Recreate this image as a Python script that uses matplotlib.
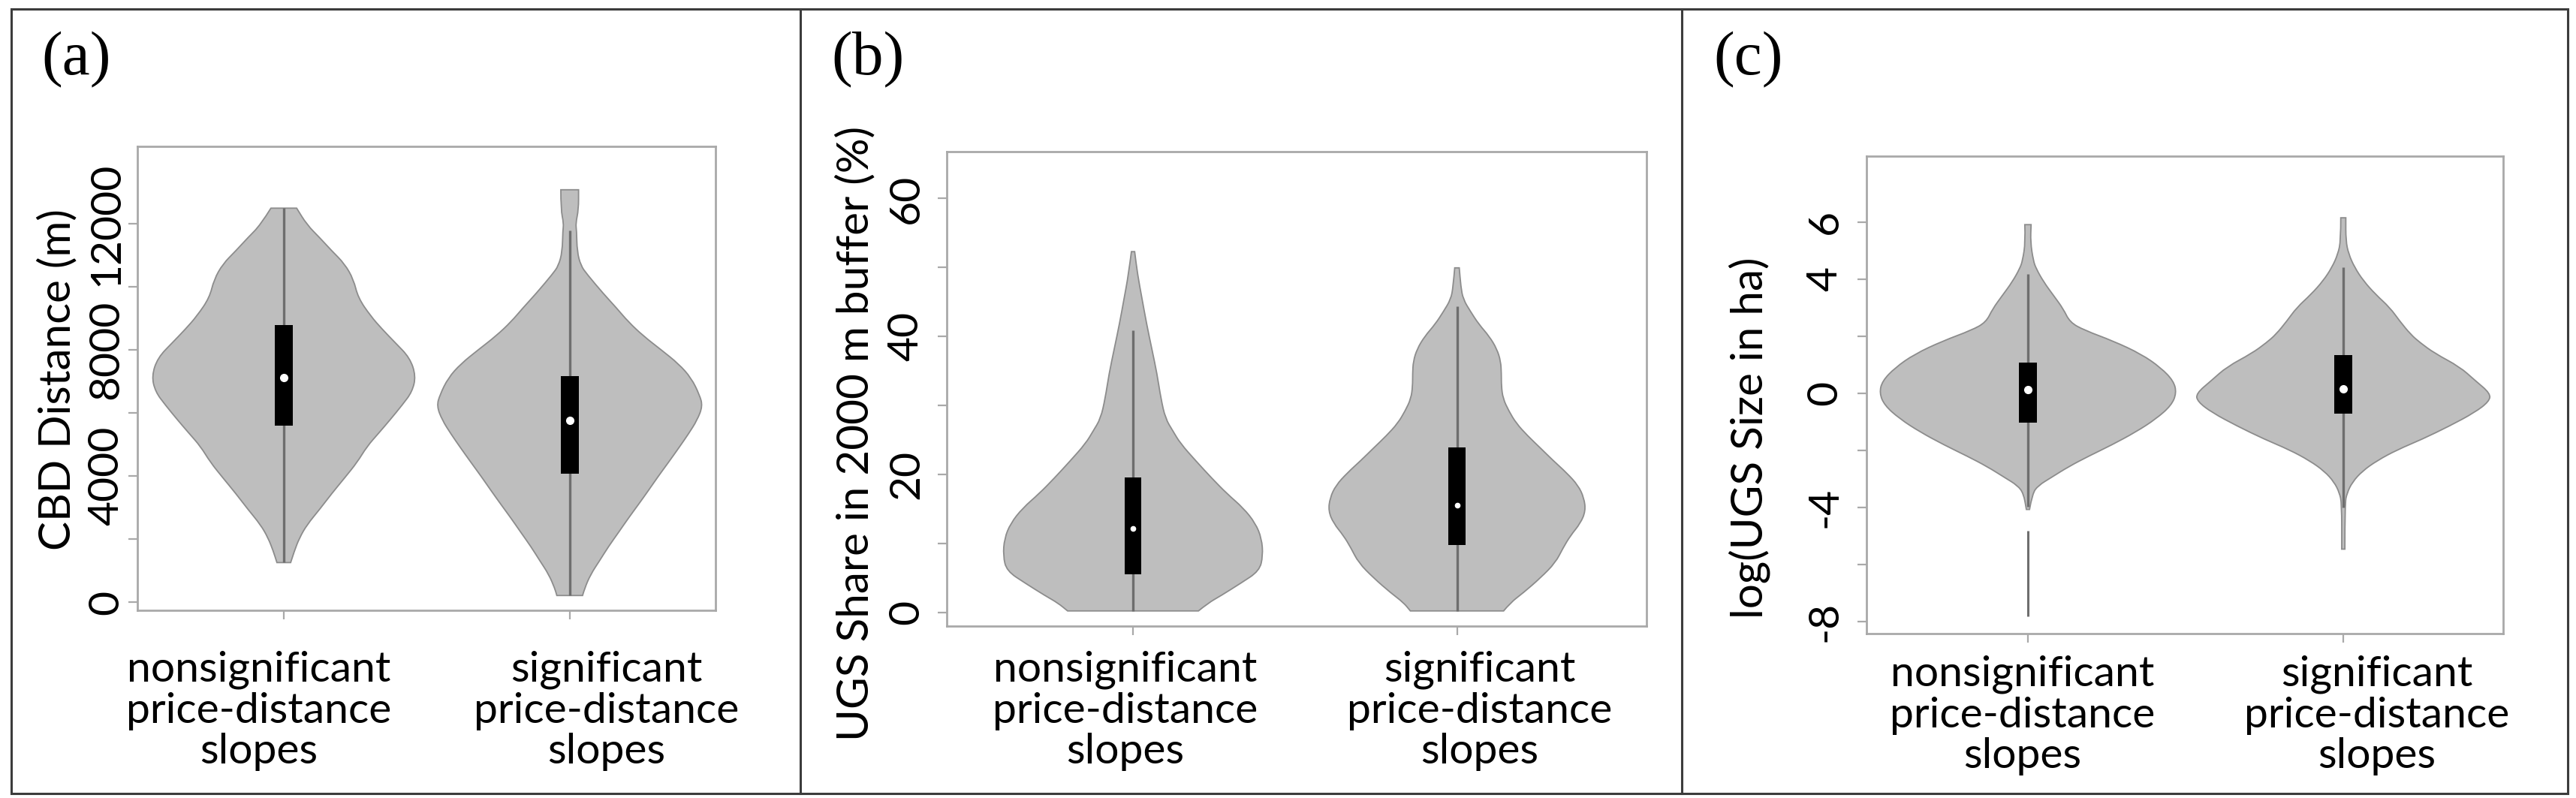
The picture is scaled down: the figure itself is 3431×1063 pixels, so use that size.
import matplotlib
matplotlib.use("Agg")
import matplotlib.pyplot as plt
from matplotlib.patches import Rectangle, PathPatch
from matplotlib.path import Path
from matplotlib.lines import Line2D
from matplotlib.transforms import blended_transform_factory

# ---------------- data ----------------
categories = ["nonsignificant\nprice-distance\nslopes",
              "significant\nprice-distance\nslopes"]

# Panel (a): CBD distance (m) -- violin outline (value, half-width in x units)
a_ns_y = [12500, 11974, 11560, 11145, 10733, 10236, 9657, 9076, 8662, 8248, 7752, 7172,
          6676, 6262, 5764, 5352, 4938, 4440, 3943, 3448, 2950, 2452, 2040, 1626, 1255]
a_ns_w = [0.045, 0.081, 0.126, 0.168, 0.213, 0.244, 0.260, 0.304, 0.344, 0.388, 0.441, 0.462,
          0.449, 0.415, 0.370, 0.331, 0.291, 0.257, 0.213, 0.168, 0.126, 0.081, 0.055, 0.037, 0.024]
a_s_y = [13084, 12460, 12014, 11791, 11122, 10677, 10410, 9786, 9341, 8895, 8450, 8005, 7560,
         7114, 6579, 6222, 5776, 5331, 4886, 4441, 3995, 3550, 3105, 2660, 2214, 1767, 1321,
         876, 431, 210]
a_s_w = [0.031, 0.031, 0.021, 0.024, 0.026, 0.039, 0.060, 0.118, 0.163, 0.205, 0.257, 0.320,
         0.381, 0.425, 0.454, 0.465, 0.446, 0.415, 0.381, 0.346, 0.310, 0.276, 0.241, 0.205,
         0.171, 0.136, 0.105, 0.073, 0.052, 0.045]
# box stats: whisker low, q1, median, q3, whisker high
a_stats = [[1255, 5600, 7130, 8800, 12500],
           [210, 4070, 5776, 7166, 11791]]

# Panel (b): UGS share in 2000 m buffer (%)
b_ns_y = [52.3, 49.0, 45.4, 41.8, 38.2, 34.6, 31.0, 28.1, 26.3, 24.5, 21.9, 19.4, 17.2,
          15.1, 12.9, 10.7, 8.2, 6.0, 4.2, 2.4, 1.35, 0.2]
b_ns_w = [0.005, 0.014, 0.028, 0.042, 0.058, 0.074, 0.086, 0.100, 0.123, 0.146, 0.195,
          0.244, 0.290, 0.341, 0.378, 0.397, 0.401, 0.390, 0.332, 0.271, 0.232, 0.202]
b_s_y = [49.95, 47.2, 45.4, 43.6, 41.8, 40.0, 38.2, 36.4, 34.6, 32.8, 31.0, 29.2, 27.4,
         25.6, 23.8, 22.0, 20.2, 18.4, 16.6, 14.7, 12.9, 11.1, 9.3, 7.2, 5.0, 2.8, 1.4, 0.2]
b_s_w = [0.007, 0.012, 0.019, 0.042, 0.067, 0.100, 0.123, 0.135, 0.137, 0.137, 0.142,
         0.160, 0.183, 0.218, 0.258, 0.297, 0.339, 0.374, 0.392, 0.397, 0.381, 0.350,
         0.327, 0.304, 0.258, 0.204, 0.165, 0.144]
b_stats = [[0.2, 5.5, 12.1, 19.6, 40.9],
           [0.2, 9.8, 15.5, 23.9, 44.4]]

# Panel (c): log(UGS size in ha)
c_ns_y = [5.91, 5.30, 4.65, 4.37, 3.90, 3.43, 2.96, 2.49, 2.21, 1.83, 1.37, 0.90, 0.43,
          0.01, -0.42, -0.89, -1.35, -1.82, -2.20, -2.57, -2.95, -3.23, -3.51, -4.07]
c_ns_w = [0.010, 0.008, 0.017, 0.026, 0.050, 0.081, 0.112, 0.133, 0.179, 0.271, 0.360,
          0.421, 0.462, 0.471, 0.455, 0.407, 0.343, 0.264, 0.193, 0.129, 0.074, 0.033,
          0.014, 0.005]
c_ns_tail_y = [-4.82, -7.82]
c_s_y = [6.15, 5.35, 4.88, 4.41, 3.94, 3.47, 3.00, 2.53, 2.06, 1.78, 1.40, 0.93, 0.46,
         -0.01, -0.29, -0.67, -1.14, -1.61, -1.98, -2.36, -2.73, -3.11, -3.49, -3.86, -5.46]
c_s_w = [0.008, 0.008, 0.017, 0.036, 0.064, 0.102, 0.148, 0.179, 0.214, 0.243, 0.290,
         0.369, 0.417, 0.467, 0.462, 0.417, 0.338, 0.250, 0.171, 0.107, 0.060, 0.029,
         0.012, 0.005, 0.005]
c_stats = [[-3.98, -1.03, 0.13, 1.08, 4.18],
           [-4.0, -0.72, 0.15, 1.35, 4.41]]

a_ticks = [0, 2000, 4000, 6000, 8000, 10000, 12000]
a_labels = ["0", "", "4000", "", "8000", "", "12000"]
b_ticks = [0, 10, 20, 30, 40, 50, 60]
b_labels = ["0", "", "20", "", "40", "", "60"]
c_ticks = [-8, -6, -4, -2, 0, 2, 4, 6]
c_labels = ["-8", "", "-4", "", "0", "", "4", "6"]

ylabels = ["CBD Distance (m)", "UGS Share in 2000 m buffer (%)", "log(UGS Size in ha)"]
panel_tags = ["(a)", "(b)", "(c)"]

# ---------------- style ----------------
W, H = 3431, 1063
FILL = "#bebebe"
EDGE = "#8c8c8c"
WHISK = "#6e6e6e"
FRAME = "#a9a9a9"
SANS = ["Lato", "DejaVu Sans"]
SERIF = ["Liberation Serif", "DejaVu Serif"]
FS = 41

fig = plt.figure(figsize=(W / 100, H / 100), dpi=100)


def fx(px):
    return px / W


def fy(py):
    return 1 - py / H


def make_ax(l, r, t, b):
    return fig.add_axes([fx(l), fy(b), fx(r) - fx(l), fy(t) - fy(b)])


def smooth_side(pts, verts, codes):
    # quadratic curve through midpoints, read points act as control points
    for i in range(1, len(pts) - 1):
        mid = ((pts[i][0] + pts[i + 1][0]) / 2, (pts[i][1] + pts[i + 1][1]) / 2)
        verts += [pts[i], mid]
        codes += [Path.CURVE3, Path.CURVE3]
    verts.append(pts[-1])
    codes.append(Path.LINETO)


def violin(ax, pos, ys, ws, stats, box_w, dot_ms, tail=None):
    left = [(pos - w, y) for w, y in zip(ws, ys)]
    right = [(pos + w, y) for w, y in zip(ws, ys)][::-1]
    verts = [left[0]]
    codes = [Path.MOVETO]
    smooth_side(left, verts, codes)
    verts.append(right[0])
    codes.append(Path.LINETO)
    smooth_side(right, verts, codes)
    verts.append(left[0])
    codes.append(Path.CLOSEPOLY)
    ax.add_patch(PathPatch(Path(verts, codes), facecolor=FILL, edgecolor=EDGE,
                           lw=1.3, zorder=2))
    if tail is not None:
        ax.plot([pos, pos], tail, color=WHISK, lw=2.2, zorder=3, solid_capstyle="butt")
    lo, q1, med, q3, hi = stats
    ax.plot([pos, pos], [lo, hi], color=WHISK, lw=2.4, zorder=3, solid_capstyle="butt")
    ax.bar(pos, q3 - q1, bottom=q1, width=box_w, color="black", zorder=4)
    ax.plot([pos], [med], "o", color="white", ms=dot_ms, mec="white", zorder=5)


def style_ax(ax, xlim, ylim, ticks, labels, pad):
    ax.set_xlim(*xlim)
    ax.set_ylim(*ylim)
    for s in ax.spines.values():
        s.set_color(FRAME)
        s.set_linewidth(2.0)
    ax.set_xticks([1, 2])
    ax.set_xticklabels(["", ""])
    ax.set_yticks(ticks)
    ax.set_yticklabels(labels, rotation=90, va="center", ha="center",
                       fontsize=FS, family=SANS)
    ax.tick_params(axis="both", direction="out", length=8.6, width=1.6, color=FRAME)
    ax.tick_params(axis="y", pad=pad)


panels = [
    dict(box=(183, 953, 195, 813), xlim=(0.488, 2.51), ylim=(-260, 14460),
         ticks=a_ticks, labels=a_labels, pad=21,
         v=[(a_ns_y, a_ns_w, None), (a_s_y, a_s_w, None)], stats=a_stats,
         bw=0.063, ms=7, xl=(0.913, 2.129), xly=947, ylx=77, yly=506, tagx=55),
    dict(box=(1261, 2193, 202, 834), xlim=(0.425, 2.585), ylim=(-2.0, 66.8),
         ticks=b_ticks, labels=b_labels, pad=30,
         v=[(b_ns_y, b_ns_w, None), (b_s_y, b_s_w, None)], stats=b_stats,
         bw=0.052, ms=4.5, xl=(0.975, 2.069), xly=947, ylx=1140, yly=577, tagx=1107),
    dict(box=(2486, 3334, 208, 844), xlim=(0.488, 2.507), ylim=(-8.42, 8.31),
         ticks=c_ticks, labels=c_labels, pad=31,
         v=[(c_ns_y, c_ns_w, c_ns_tail_y), (c_s_y, c_s_w, None)],
         stats=c_stats, bw=0.058, ms=7, xl=(0.983, 2.107), xly=953, ylx=2330, yly=583,
         tagx=2282),
]

for i, p in enumerate(panels):
    ax = make_ax(*p["box"])
    for j, (ys, ws, tail) in enumerate(p["v"]):
        violin(ax, j + 1, ys, ws, p["stats"][j], p["bw"], p["ms"], tail)
    style_ax(ax, p["xlim"], p["ylim"], p["ticks"], p["labels"], p["pad"])
    tr = blended_transform_factory(ax.transData, fig.transFigure)
    for k, cat in enumerate(categories):
        ax.text(p["xl"][k], fy(p["xly"]), cat, transform=tr, ha="center", va="center",
                multialignment="center", fontsize=FS, family=SANS, linespacing=1.08,
                clip_on=False)
    fig.text(fx(p["ylx"]), fy(p["yly"]), ylabels[i], rotation=90, ha="center",
             va="center", fontsize=FS + 1, family=SANS)
    fig.text(fx(p["tagx"]), fy(42), panel_tags[i], ha="left", va="top",
             fontsize=60, family=SERIF)

# outer frame and dividers
fig.add_artist(Rectangle((fx(15), fy(1057)), fx(3420) - fx(15), fy(12) - fy(1057),
                         transform=fig.transFigure, fill=False, ec="#3c3c3c", lw=2.2))
for xd in (1066, 2240):
    fig.add_artist(Line2D([fx(xd), fx(xd)], [fy(12), fy(1057)], transform=fig.transFigure,
                          color="#3c3c3c", lw=2.2))

fig.savefig("out.png", dpi=100, facecolor="white")
